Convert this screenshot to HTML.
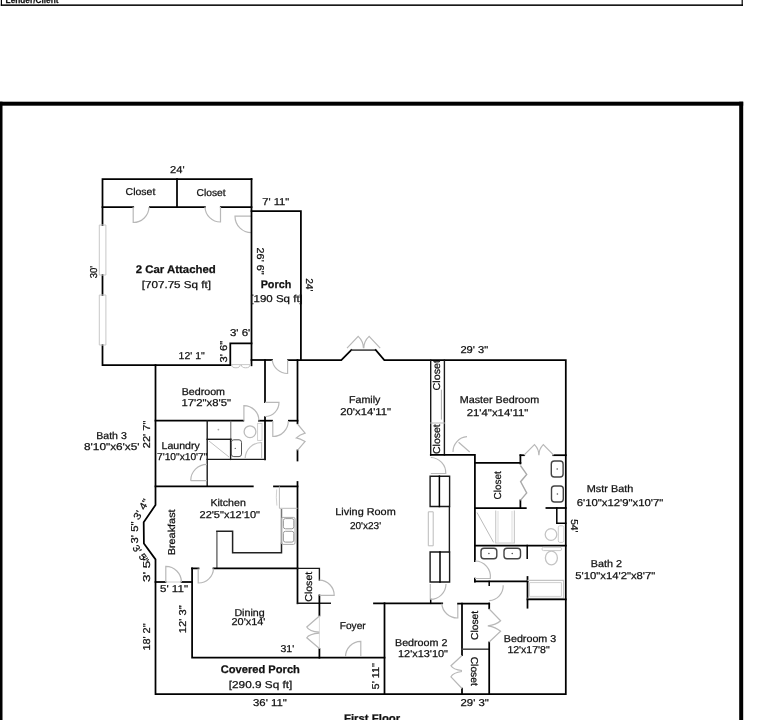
<!DOCTYPE html>
<html><head><meta charset="utf-8"><style>
html,body{margin:0;padding:0;background:#fff;width:783px;height:720px;overflow:hidden}
svg{display:block;font-family:"Liberation Sans",sans-serif;will-change:transform}
text{stroke:#111;stroke-width:0.25px;text-rendering:geometricPrecision}
</style></head><body>
<svg width="783" height="720" viewBox="0 0 783 720">
<rect x="1" y="-2" width="741.5" height="1" fill="#fff"/>
<rect x="0.8" y="0" width="1.2" height="5.8" fill="#000"/>
<rect x="0.8" y="4.4" width="742.2" height="1.5" fill="#000"/>
<rect x="741.6" y="0" width="1.2" height="5.8" fill="#000"/>
<text x="5.6" y="3" font-size="9" font-weight="bold" textLength="52.9" lengthAdjust="spacingAndGlyphs" fill="#111">Lender/Client</text>
<rect x="-2" y="101.7" width="745.2" height="4" fill="#000"/>
<rect x="-2" y="101.7" width="4.5" height="640" fill="#000"/>
<rect x="739.2" y="101.7" width="4" height="640" fill="#000"/>
<polyline points="102.5,345 102.5,365 230.5,365" fill="none" stroke="#000" stroke-width="1.75" stroke-linejoin="miter" stroke-linecap="square"/>
<polyline points="102.5,225 102.5,179 251.5,179" fill="none" stroke="#000" stroke-width="1.75" stroke-linejoin="miter" stroke-linecap="square"/>
<line x1="102.5" y1="275" x2="102.5" y2="295" stroke="#000" stroke-width="1.75" stroke-linecap="square"/>
<path d="M99.3,225 V275 H105.9 V225 Z" fill="none" stroke="#c8c8c8" stroke-width="1"/>
<path d="M99.3,295 V345 H105.9 V295 Z" fill="none" stroke="#c8c8c8" stroke-width="1"/>
<line x1="177" y1="179" x2="177" y2="207" stroke="#000" stroke-width="1.75" stroke-linecap="square"/>
<polyline points="102.5,207 133.2,207" fill="none" stroke="#000" stroke-width="1.75" stroke-linejoin="miter" stroke-linecap="square"/>
<polyline points="149.9,207 204.9,207" fill="none" stroke="#000" stroke-width="1.75" stroke-linejoin="miter" stroke-linecap="square"/>
<polyline points="220.8,207 251.5,207" fill="none" stroke="#000" stroke-width="1.75" stroke-linejoin="miter" stroke-linecap="square"/>
<path d="M133.2,207 V222.5 A15.8,15.8 0 0 0 149,207" fill="none" stroke="#b8b8b8" stroke-width="1.2"/>
<path d="M220.5,207 V222 A15.5,15.5 0 0 1 205,207" fill="none" stroke="#b8b8b8" stroke-width="1.2"/>
<path d="M251.5,216.2 H235 A16.5,16.5 0 0 0 251.5,232.7" fill="none" stroke="#b8b8b8" stroke-width="1.2"/>
<polyline points="251.5,179 251.5,365.3" fill="none" stroke="#000" stroke-width="1.75" stroke-linejoin="miter" stroke-linecap="square"/>
<polyline points="230.3,365 230.3,343.3 251.5,343.3" fill="none" stroke="#000" stroke-width="1.75" stroke-linejoin="miter" stroke-linecap="square"/>
<path d="M231,364.6 H251" fill="none" stroke="#bbb" stroke-width="0.8"/>
<path d="M231.6,364.8 a4.3,3 0 0 0 8.6,0 M241.4,364.8 a4.3,3 0 0 0 8.6,0" fill="none" stroke="#c0c0c0" stroke-width="1"/>
<polyline points="251.5,211.2 300.9,211.2 300.9,360" fill="none" stroke="#000" stroke-width="1.75" stroke-linejoin="miter" stroke-linecap="square"/>
<polyline points="251.5,360 272,360" fill="none" stroke="#000" stroke-width="1.75" stroke-linejoin="miter" stroke-linecap="square"/>
<polyline points="288,360 341.3,360 351.3,350" fill="none" stroke="#000" stroke-width="1.75" stroke-linejoin="miter" stroke-linecap="square"/>
<line x1="351.3" y1="350.1" x2="375.8" y2="350.1" stroke="#444" stroke-width="1.6" stroke-linecap="butt"/>
<polyline points="375.8,350 384.3,360 565.8,360 565.8,694 155.5,694 155.5,559.4 143.9,543.5 143.7,522.2 155.5,505 155.5,365" fill="none" stroke="#000" stroke-width="1.75" stroke-linejoin="miter" stroke-linecap="square"/>
<path d="M287.6,360 V373.5 A15.5,15.5 0 0 1 272.2,360" fill="none" stroke="#b8b8b8" stroke-width="1.2"/>
<path d="M347,348.2 L358.2,336.4 A16.3,16.3 0 0 1 363.4,348.2 M380.2,348.2 L369.1,336.4 A16.3,16.3 0 0 0 363.8,348.2" fill="none" stroke="#b8b8b8" stroke-width="1.2"/>
<polyline points="265,360 265,402" fill="none" stroke="#000" stroke-width="1.75" stroke-linejoin="miter" stroke-linecap="square"/>
<polyline points="265,417 265,459.4" fill="none" stroke="#000" stroke-width="1.75" stroke-linejoin="miter" stroke-linecap="square"/>
<path d="M265,402.3 H279 A14,14 0 0 1 265,416.5" fill="none" stroke="#b8b8b8" stroke-width="1.2"/>
<polyline points="297.5,360 297.5,423.3" fill="none" stroke="#000" stroke-width="1.75" stroke-linejoin="miter" stroke-linecap="square"/>
<polyline points="297.5,450.4 297.5,460.5" fill="none" stroke="#000" stroke-width="1.75" stroke-linejoin="miter" stroke-linecap="square"/>
<polyline points="297.5,482 297.5,603.3" fill="none" stroke="#000" stroke-width="1.75" stroke-linejoin="miter" stroke-linecap="square"/>
<path d="M297.5,424 L305.1,433.1 Q300,434.5 296.3,437.9 Q300,438.5 305.1,441.4 L297.5,450.4" fill="none" stroke="#b8b8b8" stroke-width="1.2"/>
<polyline points="155.5,420.7 243.3,420.7" fill="none" stroke="#000" stroke-width="1.75" stroke-linejoin="miter" stroke-linecap="square"/>
<polyline points="258.9,420.7 272,420.7" fill="none" stroke="#000" stroke-width="1.75" stroke-linejoin="miter" stroke-linecap="square"/>
<polyline points="288.9,420.7 297.5,420.7" fill="none" stroke="#000" stroke-width="1.75" stroke-linejoin="miter" stroke-linecap="square"/>
<path d="M243.9,420.7 V405.6 A15,15 0 0 1 258.9,420.7" fill="none" stroke="#b8b8b8" stroke-width="1.2"/>
<path d="M272.8,421 V436.5 A15.5,15.5 0 0 0 288.3,421" fill="none" stroke="#b8b8b8" stroke-width="1.2"/>
<polyline points="207.2,420.7 207.2,486.4" fill="none" stroke="#1a1a1a" stroke-width="1.4" stroke-linejoin="miter" stroke-linecap="square"/>
<polyline points="207.2,439.3 231,439.3" fill="none" stroke="#1a1a1a" stroke-width="1.4" stroke-linejoin="miter" stroke-linecap="square"/>
<line x1="230.8" y1="420.7" x2="230.8" y2="439.3" stroke="#666" stroke-width="1" stroke-linecap="butt"/>
<polyline points="230.6,439.3 230.6,459.4" fill="none" stroke="#1a1a1a" stroke-width="1.4" stroke-linejoin="miter" stroke-linecap="square"/>
<polyline points="207.2,459.4 265,459.4" fill="none" stroke="#1a1a1a" stroke-width="1.4" stroke-linejoin="miter" stroke-linecap="square"/>
<path d="M190.7,480.7 H207 M190.7,480.7 A16.3,16.3 0 0 1 207,464.4" fill="none" stroke="#b8b8b8" stroke-width="1.2"/>
<polyline points="155.5,486.4 252.8,486.4" fill="none" stroke="#000" stroke-width="1.75" stroke-linejoin="miter" stroke-linecap="square"/>
<polyline points="274,486.4 297.5,486.4" fill="none" stroke="#000" stroke-width="1.75" stroke-linejoin="miter" stroke-linecap="square"/>
<path d="M209,441 L229,457" fill="none" stroke="#c0c0c0" stroke-width="1"/>
<circle cx="218.4" cy="429.6" r="0.9" fill="#aaa"/>
<rect x="231.3" y="439.8" width="10.2" height="16.8" rx="2.5" fill="none" stroke="#555" stroke-width="1"/>
<circle cx="235.3" cy="448.4" r="0.7" fill="#666"/>
<path d="M245.1,458.5 A16.5,16.5 0 0 1 261.6,442.5 V458.5" fill="none" stroke="#c4c4c4" stroke-width="1.2"/>
<circle cx="250" cy="431.7" r="5.9" fill="none" stroke="#bbb" stroke-width="1.3"/>
<rect x="257.6" y="423.4" width="4.4" height="17" fill="none" stroke="#ccc" stroke-width="0.9"/>
<line x1="216.9" y1="568.4" x2="216.9" y2="531.3" stroke="#666" stroke-width="1.4" stroke-linecap="butt"/>
<polyline points="216.9,531.3 232.6,531.3 232.6,552.8 281.5,552.8 281.5,543.5" fill="none" stroke="#222" stroke-width="1.5" stroke-linejoin="miter" stroke-linecap="square"/>
<line x1="281.5" y1="543.5" x2="281.5" y2="509" stroke="#777" stroke-width="1.5" stroke-linecap="butt"/>
<path d="M279.4,486.4 V508.3 H297.5" fill="none" stroke="#bbb" stroke-width="1"/>
<path d="M276.7,489.4 Q275.8,497 276.9,505.6" fill="none" stroke="#ccc" stroke-width="0.9"/>
<rect x="281.4" y="517.4" width="13.6" height="27" rx="1.5" fill="none" stroke="#aaa" stroke-width="1"/>
<rect x="283.4" y="518.6" width="10.4" height="10.2" rx="2" fill="none" stroke="#999" stroke-width="1"/>
<rect x="283.4" y="531.3" width="10.4" height="10.8" rx="2" fill="none" stroke="#999" stroke-width="1"/>
<polyline points="192,568.4 198.5,568.4" fill="none" stroke="#000" stroke-width="1.75" stroke-linejoin="miter" stroke-linecap="square"/>
<polyline points="213.5,568.4 297.5,568.4" fill="none" stroke="#000" stroke-width="1.75" stroke-linejoin="miter" stroke-linecap="square"/>
<path d="M198.2,568.4 V583 A15,15 0 0 0 213.5,568.4" fill="none" stroke="#b8b8b8" stroke-width="1.2"/>
<polyline points="192.1,568.4 192.1,657.7 384.5,657.7" fill="none" stroke="#000" stroke-width="1.75" stroke-linejoin="miter" stroke-linecap="square"/>
<polyline points="155.5,582 165.6,582" fill="none" stroke="#000" stroke-width="1.75" stroke-linejoin="miter" stroke-linecap="square"/>
<polyline points="181.5,582 192.1,582" fill="none" stroke="#000" stroke-width="1.75" stroke-linejoin="miter" stroke-linecap="square"/>
<path d="M165.6,582 H181.5" fill="none" stroke="#ccc" stroke-width="1"/>
<path d="M165.8,582 V566.4 A15.6,15.6 0 0 1 181.4,582" fill="none" stroke="#b8b8b8" stroke-width="1.2"/>
<polyline points="297.6,568.4 319.4,568.4 319.4,580" fill="none" stroke="#1a1a1a" stroke-width="1.4" stroke-linejoin="miter" stroke-linecap="square"/>
<polyline points="297.6,603.3 330.3,603.3" fill="none" stroke="#1a1a1a" stroke-width="1.4" stroke-linejoin="miter" stroke-linecap="square"/>
<polyline points="319.4,595.4 319.4,615.5" fill="none" stroke="#000" stroke-width="1.75" stroke-linejoin="miter" stroke-linecap="square"/>
<polyline points="319.4,649 319.4,657.7" fill="none" stroke="#000" stroke-width="1.75" stroke-linejoin="miter" stroke-linecap="square"/>
<path d="M319.4,595.4 H334.2 A15,15 0 0 0 319.4,580.2" fill="none" stroke="#b8b8b8" stroke-width="1.2"/>
<path d="M319.4,616 L306.8,627 Q309,631.5 319.4,632.2 M319.4,633.2 Q309,634 306.8,637.8 L319.4,648.5" fill="none" stroke="#b8b8b8" stroke-width="1.2"/>
<line x1="319.4" y1="615.5" x2="319.4" y2="649" stroke="#ccc" stroke-width="0.7" stroke-linecap="butt"/>
<path d="M345.5,657 A15.5,15.5 0 0 1 360.8,641.3 V657" fill="none" stroke="#b8b8b8" stroke-width="1.2"/>
<polyline points="374,603.3 442.2,603.3" fill="none" stroke="#000" stroke-width="1.75" stroke-linejoin="miter" stroke-linecap="square"/>
<polyline points="384.5,603.3 384.5,694" fill="none" stroke="#000" stroke-width="1.75" stroke-linejoin="miter" stroke-linecap="square"/>
<line x1="430.7" y1="599.4" x2="430.7" y2="603.3" stroke="#000" stroke-width="1.5" stroke-linecap="square"/>
<path d="M430.3,584 V599.4 M446,584 A15.6,15.6 0 0 1 430.5,599.4" fill="none" stroke="#b8b8b8" stroke-width="1.2"/>
<path d="M441.8,603.6 A15.5,15.5 0 0 0 457.8,618 V603.6" fill="none" stroke="#b8b8b8" stroke-width="1.2"/>
<polyline points="458.1,603.5 489.2,603.5" fill="none" stroke="#000" stroke-width="1.75" stroke-linejoin="miter" stroke-linecap="square"/>
<polyline points="462,603.5 462,655" fill="none" stroke="#000" stroke-width="1.75" stroke-linejoin="miter" stroke-linecap="square"/>
<polyline points="462,688.5 462,694" fill="none" stroke="#000" stroke-width="1.75" stroke-linejoin="miter" stroke-linecap="square"/>
<line x1="462" y1="649.2" x2="489" y2="649.2" stroke="#444" stroke-width="1.5" stroke-linecap="square"/>
<polyline points="489.2,603.5 489.2,608.3" fill="none" stroke="#000" stroke-width="1.75" stroke-linejoin="miter" stroke-linecap="square"/>
<polyline points="489.2,642.4 489.2,694" fill="none" stroke="#000" stroke-width="1.75" stroke-linejoin="miter" stroke-linecap="square"/>
<path d="M462,655.5 L451,665.7 Q453,669.5 462,670.5 M462,671.5 Q453,672.5 451,676.8 L462,688.5" fill="none" stroke="#b8b8b8" stroke-width="1.2"/>
<path d="M489.2,609 L500.6,620.8 Q496,625 487.8,625.8 Q496,627 500.6,631.3 L489.2,642" fill="none" stroke="#b8b8b8" stroke-width="1.2"/>
<polyline points="430.7,360 430.7,455" fill="none" stroke="#1a1a1a" stroke-width="1.4" stroke-linejoin="miter" stroke-linecap="square"/>
<polyline points="444.4,360 444.4,454.9" fill="none" stroke="#1a1a1a" stroke-width="1.4" stroke-linejoin="miter" stroke-linecap="square"/>
<path d="M441.4,389.7 V419.6" fill="none" stroke="#aaa" stroke-width="1"/>
<line x1="430.7" y1="423" x2="444.4" y2="423" stroke="#bbb" stroke-width="1" stroke-linecap="square"/>
<polyline points="430.8,454.9 474.9,454.9 474.9,561" fill="none" stroke="#000" stroke-width="1.75" stroke-linejoin="miter" stroke-linecap="square"/>
<polyline points="474.9,578.5 474.9,581.7" fill="none" stroke="#000" stroke-width="1.75" stroke-linejoin="miter" stroke-linecap="square"/>
<path d="M430.8,457.5 A15.5,15.5 0 0 1 445.8,473.5 H430.8" fill="none" stroke="#b8b8b8" stroke-width="1.2"/>
<polyline points="430.1,476.2 449.6,476.2 449.6,506.5 430.1,506.5 430.1,476.2" fill="none" stroke="#1a1a1a" stroke-width="1.4" stroke-linejoin="miter" stroke-linecap="square"/>
<line x1="439.4" y1="476.2" x2="439.4" y2="506.5" stroke="#000" stroke-width="1.5" stroke-linecap="square"/>
<polyline points="430.1,552 449.6,552 449.6,582 430.1,582 430.1,552" fill="none" stroke="#1a1a1a" stroke-width="1.4" stroke-linejoin="miter" stroke-linecap="square"/>
<line x1="440" y1="552" x2="440" y2="582" stroke="#000" stroke-width="1.5" stroke-linecap="square"/>
<line x1="449.4" y1="506.5" x2="449.4" y2="552" stroke="#1a1a1a" stroke-width="1.4" stroke-linecap="square"/>
<path d="M428.3,511.8 H433.2 V545.8 H428.3 Z" fill="none" stroke="#bbb" stroke-width="1"/>
<path d="M453,452 A15,15 0 0 1 467,436.7 M458.6,442.2 L469.7,452" fill="none" stroke="#b8b8b8" stroke-width="1.2"/>
<polyline points="474.9,462.9 520.4,462.9" fill="none" stroke="#000" stroke-width="1.75" stroke-linejoin="miter" stroke-linecap="square"/>
<polyline points="520.4,455.2 520.4,463.5" fill="none" stroke="#000" stroke-width="1.75" stroke-linejoin="miter" stroke-linecap="square"/>
<polyline points="520.4,500.4 520.4,508" fill="none" stroke="#000" stroke-width="1.75" stroke-linejoin="miter" stroke-linecap="square"/>
<polyline points="474.9,508 525.8,508" fill="none" stroke="#000" stroke-width="1.75" stroke-linejoin="miter" stroke-linecap="square"/>
<polyline points="546.4,508 565.8,508" fill="none" stroke="#000" stroke-width="1.75" stroke-linejoin="miter" stroke-linecap="square"/>
<polyline points="520.4,455.2 524.2,455.2" fill="none" stroke="#000" stroke-width="1.75" stroke-linejoin="miter" stroke-linecap="square"/>
<polyline points="553.3,455.2 565.8,455.2" fill="none" stroke="#000" stroke-width="1.75" stroke-linejoin="miter" stroke-linecap="square"/>
<path d="M524,455.2 L534.5,444.7 A14.85,14.85 0 0 1 538.85,455.2 M553.7,455.2 L543.3,444.7 A14.8,14.8 0 0 0 538.95,455.2" fill="none" stroke="#b8b8b8" stroke-width="1.2"/>
<path d="M520.4,465.5 L526.7,474.4 L520.6,481.7 L526.7,493 L520.4,500.4" fill="none" stroke="#aaa" stroke-width="1.4"/>
<rect x="551.3" y="461" width="11.8" height="16" rx="3" fill="none" stroke="#444" stroke-width="1.4"/>
<circle cx="557.2" cy="469" r="0.8" fill="#555"/>
<rect x="551.5" y="486" width="11.8" height="16" rx="3" fill="none" stroke="#444" stroke-width="1.4"/>
<circle cx="557.4" cy="494" r="0.8" fill="#555"/>
<polyline points="556.8,508 556.8,523.2 565.8,523.2" fill="none" stroke="#000" stroke-width="1.5" stroke-linejoin="miter" stroke-linecap="square"/>
<path d="M477,512.5 L493.6,542.4" fill="none" stroke="#bbb" stroke-width="1"/>
<path d="M495.7,510.4 V543 H514.4 V510.4" fill="none" stroke="#ccc" stroke-width="1.2"/>
<path d="M498,511 V542 M512,511 V542" fill="none" stroke="#ddd" stroke-width="1"/>
<circle cx="551" cy="534.5" r="5.8" fill="none" stroke="#c4c4c4" stroke-width="1.3"/>
<rect x="558.3" y="525.8" width="5.5" height="16.6" rx="1.5" fill="none" stroke="#ccc" stroke-width="1"/>
<polyline points="474.9,545.5 565.8,545.5" fill="none" stroke="#000" stroke-width="1.75" stroke-linejoin="miter" stroke-linecap="square"/>
<polyline points="527.2,545.5 527.2,558.2" fill="none" stroke="#000" stroke-width="1.5" stroke-linejoin="miter" stroke-linecap="square"/>
<rect x="481" y="548.2" width="15.8" height="10.6" rx="3" fill="none" stroke="#444" stroke-width="1.4"/>
<circle cx="488.9" cy="553.5" r="0.8" fill="#555"/>
<rect x="504" y="548.2" width="16.5" height="10.6" rx="3" fill="none" stroke="#444" stroke-width="1.4"/>
<circle cx="512.25" cy="553.5" r="0.8" fill="#555"/>
<ellipse cx="551.4" cy="558" rx="6" ry="6.8" fill="none" stroke="#c4c4c4" stroke-width="1.3"/>
<rect x="542" y="547.3" width="19.6" height="3.3" rx="1.5" fill="none" stroke="#ccc" stroke-width="1"/>
<path d="M475,561 A15.5,15.5 0 0 1 490.3,578.5 H475" fill="none" stroke="#b8b8b8" stroke-width="1.2"/>
<polyline points="474.9,581.4 527.5,581.4" fill="none" stroke="#000" stroke-width="1.75" stroke-linejoin="miter" stroke-linecap="square"/>
<polyline points="527.5,577 527.5,607.7" fill="none" stroke="#000" stroke-width="1.75" stroke-linejoin="miter" stroke-linecap="square"/>
<path d="M527.5,580.4 H563.6 V598.4 H527.5" fill="none" stroke="#c4c4c4" stroke-width="1.2"/>
<path d="M529.5,582.6 H561.4 V596.4 H529.5 Z" fill="none" stroke="#d0d0d0" stroke-width="1"/>
<polyline points="527.5,599.3 565.8,599.3" fill="none" stroke="#000" stroke-width="1.75" stroke-linejoin="miter" stroke-linecap="square"/>
<line x1="489.2" y1="581.4" x2="489.2" y2="585.3" stroke="#000" stroke-width="1.5" stroke-linecap="square"/>
<path d="M503.2,585.3 A15,15 0 0 1 489.2,600.7" fill="none" stroke="#b8b8b8" stroke-width="1.2"/>
<text x="170" y="173.2" font-size="10" textLength="14.6" lengthAdjust="spacingAndGlyphs" fill="#111">24'</text>
<text x="125.6" y="195.4" font-size="10" textLength="29.8" lengthAdjust="spacingAndGlyphs" fill="#111">Closet</text>
<text x="196.5" y="196.4" font-size="10" textLength="29.2" lengthAdjust="spacingAndGlyphs" fill="#111">Closet</text>
<text x="262.2" y="204.7" font-size="10" textLength="27.1" lengthAdjust="spacingAndGlyphs" fill="#111">7' 11&quot;</text>
<text x="256.6" y="247.6" font-size="10" textLength="27" lengthAdjust="spacingAndGlyphs" transform="rotate(90 256.6 247.6)" fill="#111">26' 6&quot;</text>
<text x="96.7" y="278.3" font-size="10" textLength="12.5" lengthAdjust="spacingAndGlyphs" transform="rotate(-90 96.7 278.3)" fill="#111">30'</text>
<text x="135.7" y="272.6" font-size="11" font-weight="bold" textLength="80.1" lengthAdjust="spacingAndGlyphs" fill="#111">2 Car Attached</text>
<text x="141.7" y="287.6" font-size="10" textLength="69.4" lengthAdjust="spacingAndGlyphs" fill="#111">[707.75 Sq ft]</text>
<text x="260.7" y="288" font-size="11" font-weight="bold" textLength="30.55" lengthAdjust="spacingAndGlyphs" fill="#111">Porch</text>
<text x="250.3" y="302" font-size="10" textLength="52.5" lengthAdjust="spacingAndGlyphs" fill="#111">[190 Sq ft]</text>
<text x="305.9" y="278.2" font-size="10" textLength="13.3" lengthAdjust="spacingAndGlyphs" transform="rotate(90 305.9 278.2)" fill="#111">24'</text>
<text x="229.9" y="336.4" font-size="10" textLength="20.4" lengthAdjust="spacingAndGlyphs" fill="#111">3' 6'</text>
<text x="227.4" y="362.4" font-size="10" textLength="21.6" lengthAdjust="spacingAndGlyphs" transform="rotate(-90 227.4 362.4)" fill="#111">3' 6&quot;</text>
<text x="178.6" y="358.9" font-size="10" textLength="26.1" lengthAdjust="spacingAndGlyphs" fill="#111">12' 1&quot;</text>
<text x="460.4" y="353.3" font-size="10" textLength="27.8" lengthAdjust="spacingAndGlyphs" fill="#111">29' 3&quot;</text>
<text x="349" y="402.8" font-size="10" textLength="31.4" lengthAdjust="spacingAndGlyphs" fill="#111">Family</text>
<text x="340.3" y="415" font-size="10" textLength="50.8" lengthAdjust="spacingAndGlyphs" fill="#111">20'x14'11&quot;</text>
<text x="181.7" y="394.6" font-size="10" textLength="43.3" lengthAdjust="spacingAndGlyphs" fill="#111">Bedroom</text>
<text x="181.4" y="406.4" font-size="10" textLength="49.6" lengthAdjust="spacingAndGlyphs" fill="#111">17'2&quot;x8'5&quot;</text>
<text x="459.7" y="402.7" font-size="10" textLength="79.5" lengthAdjust="spacingAndGlyphs" fill="#111">Master Bedroom</text>
<text x="466.7" y="416" font-size="10" textLength="61.6" lengthAdjust="spacingAndGlyphs" fill="#111">21'4&quot;x14'11&quot;</text>
<text x="439.6" y="390.4" font-size="10" textLength="30.5" lengthAdjust="spacingAndGlyphs" transform="rotate(-90 439.6 390.4)" fill="#111">Closet</text>
<text x="440.3" y="454" font-size="10" textLength="29.8" lengthAdjust="spacingAndGlyphs" transform="rotate(-90 440.3 454)" fill="#111">Closet</text>
<text x="96.2" y="438.6" font-size="10" textLength="30.6" lengthAdjust="spacingAndGlyphs" fill="#111">Bath 3</text>
<text x="84" y="449.7" font-size="10" textLength="55.6" lengthAdjust="spacingAndGlyphs" fill="#111">8'10&quot;x6'x5'</text>
<text x="150.5" y="448.2" font-size="10" textLength="27.5" lengthAdjust="spacingAndGlyphs" transform="rotate(-90 150.5 448.2)" fill="#111">22' 7&quot;</text>
<text x="161.5" y="449.2" font-size="10" textLength="38.2" lengthAdjust="spacingAndGlyphs" fill="#111">Laundry</text>
<text x="157" y="459.9" font-size="10" textLength="50.4" lengthAdjust="spacingAndGlyphs" fill="#111">7'10&quot;x10'7&quot;</text>
<text x="210.4" y="506.4" font-size="10" textLength="35.4" lengthAdjust="spacingAndGlyphs" fill="#111">Kitchen</text>
<text x="199.5" y="517.8" font-size="10" textLength="60.5" lengthAdjust="spacingAndGlyphs" fill="#111">22'5&quot;x12'10&quot;</text>
<text x="174.9" y="555.3" font-size="10" textLength="45.9" lengthAdjust="spacingAndGlyphs" transform="rotate(-90 174.9 555.3)" fill="#111">Breakfast</text>
<text x="335.3" y="515" font-size="10" textLength="60.4" lengthAdjust="spacingAndGlyphs" fill="#111">Living Room</text>
<text x="349.9" y="528.6" font-size="10" textLength="31.2" lengthAdjust="spacingAndGlyphs" fill="#111">20'x23'</text>
<text x="500.6" y="499.5" font-size="10" textLength="28.2" lengthAdjust="spacingAndGlyphs" transform="rotate(-90 500.6 499.5)" fill="#111">Closet</text>
<text x="586.7" y="492" font-size="10" textLength="46.6" lengthAdjust="spacingAndGlyphs" fill="#111">Mstr Bath</text>
<text x="576.7" y="505.5" font-size="10" textLength="86.6" lengthAdjust="spacingAndGlyphs" fill="#111">6'10&quot;x12'9&quot;x10'7&quot;</text>
<text x="570.8" y="519.2" font-size="10" textLength="13.3" lengthAdjust="spacingAndGlyphs" transform="rotate(90 570.8 519.2)" fill="#111">54'</text>
<text x="590.8" y="566.7" font-size="10" textLength="31.2" lengthAdjust="spacingAndGlyphs" fill="#111">Bath 2</text>
<text x="575.3" y="578.7" font-size="10" textLength="80" lengthAdjust="spacingAndGlyphs" fill="#111">5'10&quot;x14'2&quot;x8'7&quot;</text>
<text x="150.2" y="582" font-size="10" textLength="26" lengthAdjust="spacingAndGlyphs" transform="rotate(-90 150.2 582)" fill="#111">3' 5&quot;</text>
<text x="160" y="592.2" font-size="10" textLength="28" lengthAdjust="spacingAndGlyphs" fill="#111">5' 11&quot;</text>
<text x="186.4" y="633.2" font-size="10" textLength="27.8" lengthAdjust="spacingAndGlyphs" transform="rotate(-90 186.4 633.2)" fill="#111">12' 3&quot;</text>
<text x="150.3" y="650.6" font-size="10" textLength="27.1" lengthAdjust="spacingAndGlyphs" transform="rotate(-90 150.3 650.6)" fill="#111">18' 2&quot;</text>
<text x="234.4" y="615.5" font-size="10" textLength="30.3" lengthAdjust="spacingAndGlyphs" fill="#111">Dining</text>
<text x="231.5" y="625.1" font-size="10" textLength="33.9" lengthAdjust="spacingAndGlyphs" fill="#111">20'x14'</text>
<text x="312.2" y="601.7" font-size="10" textLength="29.9" lengthAdjust="spacingAndGlyphs" transform="rotate(-90 312.2 601.7)" fill="#111">Closet</text>
<text x="339.7" y="629.4" font-size="10" textLength="26" lengthAdjust="spacingAndGlyphs" fill="#111">Foyer</text>
<text x="280.4" y="651.5" font-size="10" textLength="13.8" lengthAdjust="spacingAndGlyphs" fill="#111">31'</text>
<text x="220.7" y="673.2" font-size="11" font-weight="bold" textLength="79.2" lengthAdjust="spacingAndGlyphs" fill="#111">Covered Porch</text>
<text x="228.8" y="687.9" font-size="10" textLength="63.5" lengthAdjust="spacingAndGlyphs" fill="#111">[290.9 Sq ft]</text>
<text x="253" y="705.8" font-size="10" textLength="33.8" lengthAdjust="spacingAndGlyphs" fill="#111">36' 11&quot;</text>
<text x="379.2" y="689.4" font-size="10" textLength="26.4" lengthAdjust="spacingAndGlyphs" transform="rotate(-90 379.2 689.4)" fill="#111">5' 11&quot;</text>
<text x="344" y="721.8" font-size="11" font-weight="bold" textLength="56.2" lengthAdjust="spacingAndGlyphs" fill="#111">First Floor</text>
<text x="395" y="646" font-size="10" textLength="52.4" lengthAdjust="spacingAndGlyphs" fill="#111">Bedroom 2</text>
<text x="398" y="656.7" font-size="10" textLength="50" lengthAdjust="spacingAndGlyphs" fill="#111">12'x13'10&quot;</text>
<text x="477.9" y="640" font-size="10" textLength="29.2" lengthAdjust="spacingAndGlyphs" transform="rotate(-90 477.9 640)" fill="#111">Closet</text>
<text x="471" y="656.7" font-size="10" textLength="29.1" lengthAdjust="spacingAndGlyphs" transform="rotate(90 471 656.7)" fill="#111">Closet</text>
<text x="503.8" y="642" font-size="10" textLength="52.4" lengthAdjust="spacingAndGlyphs" fill="#111">Bedroom 3</text>
<text x="507.4" y="653.2" font-size="10" textLength="42.3" lengthAdjust="spacingAndGlyphs" fill="#111">12'x17'8&quot;</text>
<text x="460.5" y="705.6" font-size="10" textLength="28.3" lengthAdjust="spacingAndGlyphs" fill="#111">29' 3&quot;</text>
<g font-size="10" fill="#111">
<text x="0" y="0" textLength="22" lengthAdjust="spacingAndGlyphs" transform="translate(138.7,520.5) rotate(-60)">3' 4"</text>
<text x="0" y="0" textLength="22" lengthAdjust="spacingAndGlyphs" transform="translate(137.6,543.5) rotate(-90)">3' 5"</text>
<text x="0" y="0" textLength="20" lengthAdjust="spacingAndGlyphs" transform="translate(132,548) rotate(54)">3' 5"</text>
</g>
</svg>
</body></html>
